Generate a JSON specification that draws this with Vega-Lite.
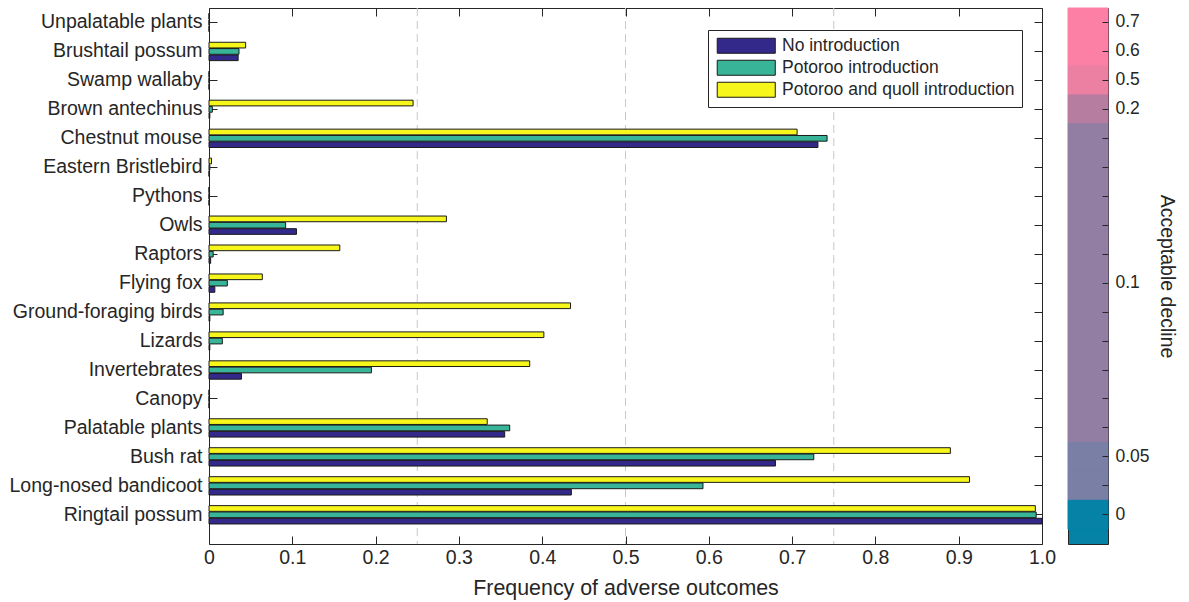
{
  "$schema": "https://vega.github.io/schema/vega-lite/v6.json",
  "background": "white",
  "padding": {"left": 8, "top": 7, "right": 0, "bottom": 0},
  "spacing": 26,
  "bounds": "flush",
  "resolve": {"scale": {"color": "independent", "stroke": "independent"}, "legend": {"color": "independent"}},
  "config": {
    "font": "Liberation Sans",
    "axis": {"labelFont": "Liberation Sans", "titleFont": "Liberation Sans", "labelColor": "#262626", "titleColor": "#262626", "tickColor": "#262626", "domain": false, "grid": false, "titleFontWeight": "normal", "labelFontSize": 19.5, "titleFontSize": 21.4},
    "legend": {"labelFont": "Liberation Sans"}
  },
  "datasets": {
    "bars": [
      {"species": "Unpalatable plants", "scenario": "No introduction", "freq": 0},
      {"species": "Unpalatable plants", "scenario": "Potoroo introduction", "freq": 0},
      {"species": "Unpalatable plants", "scenario": "Potoroo and quoll introduction", "freq": 0},
      {"species": "Brushtail possum", "scenario": "No introduction", "freq": 0.035},
      {"species": "Brushtail possum", "scenario": "Potoroo introduction", "freq": 0.036},
      {"species": "Brushtail possum", "scenario": "Potoroo and quoll introduction", "freq": 0.044},
      {"species": "Swamp wallaby", "scenario": "No introduction", "freq": 0},
      {"species": "Swamp wallaby", "scenario": "Potoroo introduction", "freq": 0},
      {"species": "Swamp wallaby", "scenario": "Potoroo and quoll introduction", "freq": 0},
      {"species": "Brown antechinus", "scenario": "No introduction", "freq": 0.001},
      {"species": "Brown antechinus", "scenario": "Potoroo introduction", "freq": 0.004},
      {"species": "Brown antechinus", "scenario": "Potoroo and quoll introduction", "freq": 0.245},
      {"species": "Chestnut mouse", "scenario": "No introduction", "freq": 0.731},
      {"species": "Chestnut mouse", "scenario": "Potoroo introduction", "freq": 0.742},
      {"species": "Chestnut mouse", "scenario": "Potoroo and quoll introduction", "freq": 0.706},
      {"species": "Eastern Bristlebird", "scenario": "No introduction", "freq": 0},
      {"species": "Eastern Bristlebird", "scenario": "Potoroo introduction", "freq": 0.001},
      {"species": "Eastern Bristlebird", "scenario": "Potoroo and quoll introduction", "freq": 0.003},
      {"species": "Pythons", "scenario": "No introduction", "freq": 0},
      {"species": "Pythons", "scenario": "Potoroo introduction", "freq": 0},
      {"species": "Pythons", "scenario": "Potoroo and quoll introduction", "freq": 0},
      {"species": "Owls", "scenario": "No introduction", "freq": 0.105},
      {"species": "Owls", "scenario": "Potoroo introduction", "freq": 0.092},
      {"species": "Owls", "scenario": "Potoroo and quoll introduction", "freq": 0.285},
      {"species": "Raptors", "scenario": "No introduction", "freq": 0.002},
      {"species": "Raptors", "scenario": "Potoroo introduction", "freq": 0.005},
      {"species": "Raptors", "scenario": "Potoroo and quoll introduction", "freq": 0.157},
      {"species": "Flying fox", "scenario": "No introduction", "freq": 0.007},
      {"species": "Flying fox", "scenario": "Potoroo introduction", "freq": 0.022},
      {"species": "Flying fox", "scenario": "Potoroo and quoll introduction", "freq": 0.064},
      {"species": "Ground-foraging birds", "scenario": "No introduction", "freq": 0.001},
      {"species": "Ground-foraging birds", "scenario": "Potoroo introduction", "freq": 0.017},
      {"species": "Ground-foraging birds", "scenario": "Potoroo and quoll introduction", "freq": 0.434},
      {"species": "Lizards", "scenario": "No introduction", "freq": 0.001},
      {"species": "Lizards", "scenario": "Potoroo introduction", "freq": 0.016},
      {"species": "Lizards", "scenario": "Potoroo and quoll introduction", "freq": 0.402},
      {"species": "Invertebrates", "scenario": "No introduction", "freq": 0.039},
      {"species": "Invertebrates", "scenario": "Potoroo introduction", "freq": 0.195},
      {"species": "Invertebrates", "scenario": "Potoroo and quoll introduction", "freq": 0.385},
      {"species": "Canopy", "scenario": "No introduction", "freq": 0},
      {"species": "Canopy", "scenario": "Potoroo introduction", "freq": 0},
      {"species": "Canopy", "scenario": "Potoroo and quoll introduction", "freq": 0},
      {"species": "Palatable plants", "scenario": "No introduction", "freq": 0.355},
      {"species": "Palatable plants", "scenario": "Potoroo introduction", "freq": 0.361},
      {"species": "Palatable plants", "scenario": "Potoroo and quoll introduction", "freq": 0.334},
      {"species": "Bush rat", "scenario": "No introduction", "freq": 0.68},
      {"species": "Bush rat", "scenario": "Potoroo introduction", "freq": 0.726},
      {"species": "Bush rat", "scenario": "Potoroo and quoll introduction", "freq": 0.89},
      {"species": "Long-nosed bandicoot", "scenario": "No introduction", "freq": 0.435},
      {"species": "Long-nosed bandicoot", "scenario": "Potoroo introduction", "freq": 0.593},
      {"species": "Long-nosed bandicoot", "scenario": "Potoroo and quoll introduction", "freq": 0.913},
      {"species": "Ringtail possum", "scenario": "No introduction", "freq": 1.0},
      {"species": "Ringtail possum", "scenario": "Potoroo introduction", "freq": 0.993},
      {"species": "Ringtail possum", "scenario": "Potoroo and quoll introduction", "freq": 0.992}
    ],
    "grid": [{"v": 0.25}, {"v": 0.5}, {"v": 0.75}],
    "decline": [
      {"species": "Unpalatable plants", "decline": 0.7},
      {"species": "Brushtail possum", "decline": 0.6},
      {"species": "Swamp wallaby", "decline": 0.5},
      {"species": "Brown antechinus", "decline": 0.2},
      {"species": "Chestnut mouse", "decline": 0.1},
      {"species": "Eastern Bristlebird", "decline": 0.1},
      {"species": "Pythons", "decline": 0.1},
      {"species": "Owls", "decline": 0.1},
      {"species": "Raptors", "decline": 0.1},
      {"species": "Flying fox", "decline": 0.1},
      {"species": "Ground-foraging birds", "decline": 0.1},
      {"species": "Lizards", "decline": 0.1},
      {"species": "Invertebrates", "decline": 0.1},
      {"species": "Canopy", "decline": 0.1},
      {"species": "Palatable plants", "decline": 0.1},
      {"species": "Bush rat", "decline": 0.05},
      {"species": "Long-nosed bandicoot", "decline": 0.05},
      {"species": "Ringtail possum", "decline": 0}
    ]
  },
  "hconcat": [
    {
      "width": 833,
      "height": 536,
      "view": {"stroke": "#262626", "strokeWidth": 1},
      "layer": [
        {
          "data": {"name": "grid"},
          "mark": {"type": "rule", "strokeDash": [8, 5], "color": "#C8C8C8", "strokeWidth": 1},
          "encoding": {
            "x": {
              "field": "v", "type": "quantitative",
              "scale": {"domain": [0, 1], "nice": false, "zero": true},
              "axis": {"orient": "bottom", "values": [0, 0.1, 0.2, 0.3, 0.4, 0.5, 0.6, 0.7, 0.8, 0.9, 1.0], "labelExpr": "datum.value == 0 ? '0' : format(datum.value, '.1f')", "tickSize": -8, "labelPadding": 12, "labelFlush": false, "labelOverlap": false, "title": "Frequency of adverse outcomes", "titlePadding": 11}
            }
          }
        },
        {
          "data": {"name": "bars"},
          "mark": {"type": "bar", "stroke": "#1a1a1a", "strokeWidth": 1},
          "encoding": {
            "y": {
              "field": "species", "type": "nominal",
              "scale": {"domain": ["Unpalatable plants", "Brushtail possum", "Swamp wallaby", "Brown antechinus", "Chestnut mouse", "Eastern Bristlebird", "Pythons", "Owls", "Raptors", "Flying fox", "Ground-foraging birds", "Lizards", "Invertebrates", "Canopy", "Palatable plants", "Bush rat", "Long-nosed bandicoot", "Ringtail possum"], "paddingInner": 0, "paddingOuter": 0.254, "align": 0},
              "axis": {"orient": "left", "title": null, "tickSize": -8, "labelPadding": 15, "labelLimit": 400}
            },
            "x": {
              "field": "freq", "type": "quantitative",
              "axis": {"orient": "top", "values": [0, 0.1, 0.2, 0.3, 0.4, 0.5, 0.6, 0.7, 0.8, 0.9, 1.0], "labels": false, "tickSize": -8, "title": null}
            },
            "yOffset": {
              "field": "scenario", "type": "nominal",
              "sort": ["Potoroo and quoll introduction", "Potoroo introduction", "No introduction"],
              "scale": {"paddingInner": 0.1, "paddingOuter": 0.84}
            },
            "color": {
              "field": "scenario", "type": "nominal",
              "scale": {"domain": ["No introduction", "Potoroo introduction", "Potoroo and quoll introduction"], "range": ["#33298A", "#38B598", "#F6F61A"]},
              "legend": {"orient": "none", "legendX": 499, "legendY": 22, "title": null, "symbolType": "M-3.87,-1H3.87V1H-3.87Z", "symbolSize": 225, "symbolOffset": 22.5, "labelOffset": 27, "symbolStrokeColor": "#1a1a1a", "symbolStrokeWidth": 1, "symbolOpacity": 1, "labelFontSize": 17.5, "labelColor": "#262626", "labelLimit": 400, "padding": 7, "strokeColor": "#262626", "fillColor": "white", "rowPadding": 2, "cornerRadius": 0}
            }
          }
        },
        {
          "data": {"name": "bars"},
          "mark": {"type": "bar", "opacity": 0},
          "encoding": {
            "y": {"field": "species", "type": "nominal", "axis": {"orient": "right", "labels": false, "tickSize": -8, "title": null}},
            "x": {"field": "freq", "type": "quantitative", "axis": null}
          }
        }
      ],
      "resolve": {"axis": {"x": "independent", "y": "independent"}}
    },
    {
      "width": 40,
      "height": 536,
      "view": {"stroke": "#262626", "strokeWidth": 1, "fill": "#0582A6"},
      "data": {"name": "decline"},
      "mark": {"type": "rect", "strokeWidth": 1},
      "encoding": {
        "y": {
          "field": "species", "type": "nominal",
          "scale": {"domain": ["Unpalatable plants", "Brushtail possum", "Swamp wallaby", "Brown antechinus", "Chestnut mouse", "Eastern Bristlebird", "Pythons", "Owls", "Raptors", "Flying fox", "Ground-foraging birds", "Lizards", "Invertebrates", "Canopy", "Palatable plants", "Bush rat", "Long-nosed bandicoot", "Ringtail possum"], "paddingInner": 0, "paddingOuter": 0.254, "align": 0},
          "axis": {"orient": "right", "tickSize": -6, "labelPadding": 13, "labelFontSize": 17.5, "labelExpr": "datum.value == 'Unpalatable plants' ? '0.7' : datum.value == 'Brushtail possum' ? '0.6' : datum.value == 'Swamp wallaby' ? '0.5' : datum.value == 'Brown antechinus' ? '0.2' : datum.value == 'Flying fox' ? '0.1' : datum.value == 'Bush rat' ? '0.05' : datum.value == 'Ringtail possum' ? '0' : ''", "title": "Acceptable decline", "titleFontSize": 19.5, "titlePadding": 7}
        },
        "color": {
          "field": "decline", "type": "ordinal",
          "scale": {"domain": [0.7, 0.6, 0.5, 0.2, 0.1, 0.05, 0], "range": ["#FC7FA5", "#FC7FA5", "#EB80A2", "#B77DA0", "#937EA3", "#7A7FA6", "#0582A6"]},
          "legend": null
        },
        "stroke": {
          "field": "decline", "type": "ordinal",
          "scale": {"domain": [0.7, 0.6, 0.5, 0.2, 0.1, 0.05, 0], "range": ["#FC7FA5", "#FC7FA5", "#EB80A2", "#B77DA0", "#937EA3", "#7A7FA6", "#0582A6"]},
          "legend": null
        }
      }
    }
  ]
}
